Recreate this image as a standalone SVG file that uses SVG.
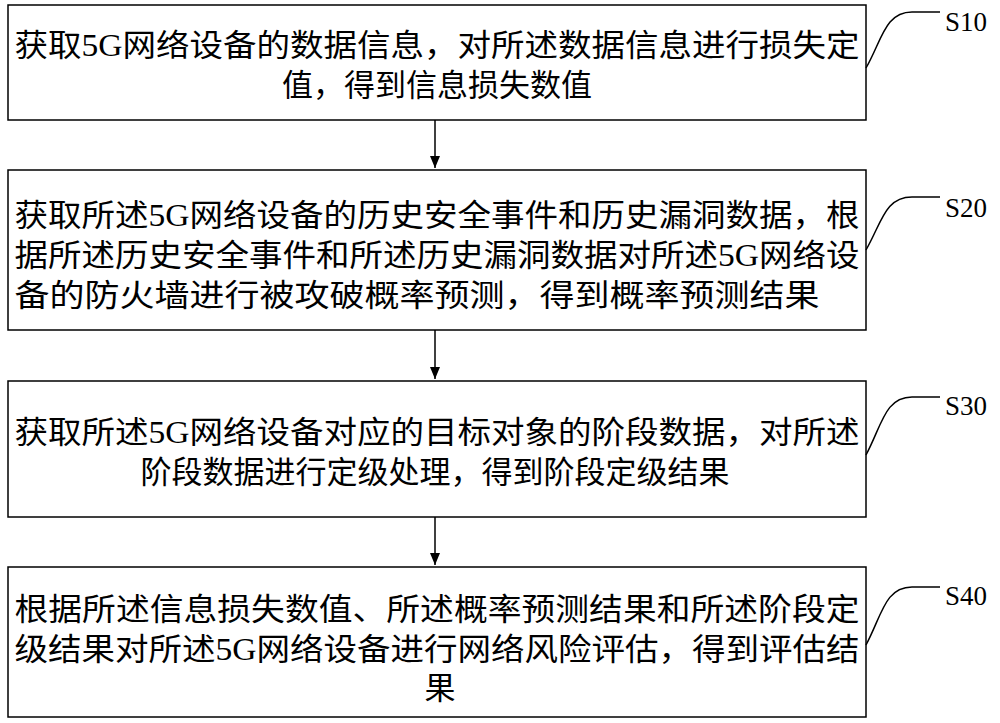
<svg xmlns="http://www.w3.org/2000/svg" width="1000" height="723" viewBox="0 0 1000 723">
<style>
.b{fill:#fff;stroke:#000;stroke-width:1.5}
.t{font-family:"Liberation Serif","Noto Sans CJK SC",serif;font-size:31px;fill:#000;text-anchor:middle}
.l{font-family:"Liberation Serif",serif;font-size:27px;fill:#000}
.c{fill:none;stroke:#000;stroke-width:1.5}
</style>
<defs>
<marker id="ar" viewBox="0 0 12 10" refX="12" refY="5" markerWidth="12" markerHeight="10" orient="auto" markerUnits="userSpaceOnUse"><path d="M0,0 L12,5 L0,10 Z"/></marker></defs>
<rect width="1000" height="723" fill="#fff"/>
<g id="n1"><rect class="b" x="8" y="5" width="858" height="115"/>
<text class="t" x="437" y="56" textLength="845" lengthAdjust="spacingAndGlyphs">获取5G网络设备的数据信息，对所述数据信息进行损失定</text>
<text class="t" x="437" y="96">值，得到信息损失数值</text></g>
<g id="n2"><rect class="b" x="8" y="170" width="858" height="160"/>
<text class="t" x="437" y="226" textLength="845" lengthAdjust="spacingAndGlyphs">获取所述5G网络设备的历史安全事件和历史漏洞数据，根</text>
<text class="t" x="437" y="266" textLength="845" lengthAdjust="spacingAndGlyphs">据所述历史安全事件和所述历史漏洞数据对所述5G网络设</text>
<text class="t" x="417" y="306" textLength="805" lengthAdjust="spacingAndGlyphs">备的防火墙进行被攻破概率预测，得到概率预测结果</text></g>
<g id="n3"><rect class="b" x="8" y="381" width="858" height="136"/>
<text class="t" x="437" y="443" textLength="845" lengthAdjust="spacingAndGlyphs">获取所述5G网络设备对应的目标对象的阶段数据，对所述</text>
<text class="t" x="435" y="483">阶段数据进行定级处理，得到阶段定级结果</text></g>
<g id="n4"><rect class="b" x="8" y="567" width="858" height="150"/>
<text class="t" x="437" y="620" textLength="845" lengthAdjust="spacingAndGlyphs">根据所述信息损失数值、所述概率预测结果和所述阶段定</text>
<text class="t" x="437" y="660" textLength="845" lengthAdjust="spacingAndGlyphs">级结果对所述5G网络设备进行网络风险评估，得到评估结</text>
<text class="t" x="440" y="699">果</text></g>
<g id="connectors">
<path class="c" d="M435,120 V168" marker-end="url(#ar)"/>
<path class="c" d="M435,330 V379" marker-end="url(#ar)"/>
<path class="c" d="M435,517 V565" marker-end="url(#ar)"/>
<path class="c" d="M866,68 C882,40 885,12 912,12 L940,12"/>
<path class="c" d="M866,250 C882,222 885,197 912,197 L940,197"/>
<path class="c" d="M866,455 C882,425 885,397 912,397 L940,397"/>
<path class="c" d="M866,645 C882,615 885,587 912,587 L940,587"/>
</g>
<g id="labels">
<text class="l" x="945" y="31">S10</text>
<text class="l" x="945" y="217">S20</text>
<text class="l" x="945" y="415">S30</text>
<text class="l" x="945" y="605">S40</text>
</g>
</svg>
